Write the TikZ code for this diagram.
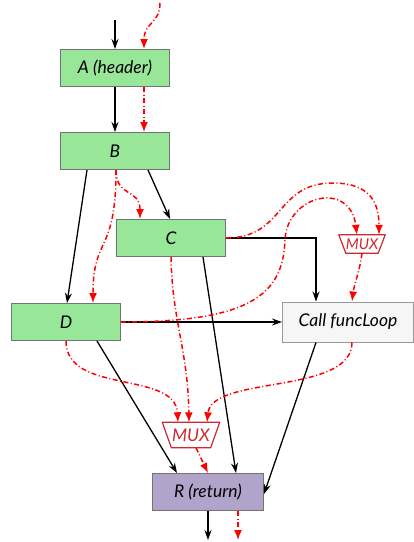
\documentclass[tikz,border=0pt]{standalone}
\usepackage{fontspec}
\setmainfont{Lato}
\usetikzlibrary{arrows.meta}
\definecolor{blockgreen}{RGB}{152,230,152}
\definecolor{blockpurple}{RGB}{176,164,202}
\definecolor{callgray}{RGB}{246,246,246}
\definecolor{muxred}{RGB}{205,40,50}
\begin{document}
\begin{tikzpicture}[x=1pt,y=-1pt,
    font=\fontsize{17.5}{20}\selectfont\itshape,
    blk/.style={draw=black!55, fill=blockgreen, line width=1pt, minimum width=109pt, minimum height=37pt, inner sep=0pt},
    mux/.style={text=muxred, inner sep=0pt},
    muxedge/.style={draw=muxred, line width=1.2pt, line join=round},
    flow/.style={-{Stealth[length=10pt,width=7pt]}, black, line width=1.3pt},
    sel/.style={-{Latex[length=10pt,width=8pt]}, red, line width=1.5pt,
                dash pattern=on 5pt off 2.5pt on 1pt off 2.5pt}]
    \useasboundingbox (0,0) rectangle (414,542);
    % blocks of the loop body
    \node[blk] (A) at (115,68) {A (header)};
    \node[blk] (B) at (115,151) {B};
    \node[blk] (C) at (171,238) {C};
    \node[blk] (D) at (66,322) {D};
    \node[draw=black!40, fill=callgray, line width=1pt, minimum width=131pt, minimum height=40pt, inner sep=0pt] (call) at (348,322) {Call funcLoop};
    \node[draw=black!55, fill=blockpurple, line width=1pt, minimum width=111pt, minimum height=37pt, inner sep=0pt] (R) at (208,492) {R (return)};
    \node[mux, minimum width=46pt, minimum height=18pt, font=\fontsize{15}{17}\selectfont\itshape] (mux1) at (362,244) {MUX};
    \node[mux, minimum width=57pt, minimum height=25pt] (mux2) at (191,435) {MUX};
    \draw[muxedge] (mux1.north west) -- (mux1.north east) -- ([xshift=-7pt]mux1.south east) -- ([xshift=7pt]mux1.south west) -- cycle;
    \draw[muxedge] (mux2.north west) -- (mux2.north east) -- ([xshift=-9pt]mux2.south east) -- ([xshift=9pt]mux2.south west) -- cycle;
    \coordinate (in) at (115,20);
    \coordinate (inr) at (160,3);
    \coordinate (out) at (208,540);
    \coordinate (outr) at (238,540);
    % control flow
    \draw[flow] (in) -- (A.north -| in);
    \draw[flow] (A.south) -- (B.north);
    \draw[flow] ([xshift=-28pt]B.south) -- ([xshift=1pt]D.north);
    \draw[flow] ([xshift=33pt]B.south) -- ([xshift=-1pt]C.north);
    \draw[flow] (C.east) -| ([xshift=-32pt]call.north);
    \draw[flow] ([xshift=32pt]C.south) -- ([xshift=28pt]R.north);
    \draw[flow] (D.east) -- (call.west);
    \draw[flow] ([xshift=31pt]D.south) -- ([xshift=-31pt]R.north);
    \draw[flow] ([xshift=-32pt]call.south) -- ([yshift=-2pt]R.east);
    \draw[flow] (R.south) -- (out);
    % selector paths
    \draw[sel] (inr) .. controls (160,24) and (144,22) .. ([xshift=29pt]A.north);
    \draw[sel] ([xshift=29pt]A.south) -- ([xshift=29pt]B.north);
    \draw[sel] ([xshift=1pt]B.south) .. controls (116,198) and (140,188) .. ([xshift=-31pt]C.north);
    \draw[sel] ([xshift=1pt]B.south) .. controls (116,255) and (93,235) .. ([xshift=27pt]D.north);
    \draw[sel] (C.south) .. controls (172,320) and (188,350) .. ([xshift=-2pt]mux2.north);
    \draw[sel] (C.east) .. controls (285,238) and (275,183) .. (333,183) .. controls (372,183) and (379,205) .. ([xshift=17pt]mux1.north);
    \draw[sel] (D.east) .. controls (250,322) and (283,295) .. (285,240) .. controls (287,195) and (350,180) .. ([xshift=-5pt]mux1.north);
    \draw[sel] (mux1.south) .. controls (360,270) and (354,285) .. ([xshift=4pt]call.north);
    \draw[sel] (D.south) .. controls (66,395) and (175,370) .. ([xshift=-13pt]mux2.north);
    \draw[sel] ([xshift=4pt]call.south) .. controls (352,395) and (212,375) .. ([xshift=16pt]mux2.north);
    \draw[sel] ([xshift=5pt]mux2.south) -- (R.north);
    \draw[sel] ([xshift=30pt]R.south) -- (outr);
\end{tikzpicture}
\end{document}
